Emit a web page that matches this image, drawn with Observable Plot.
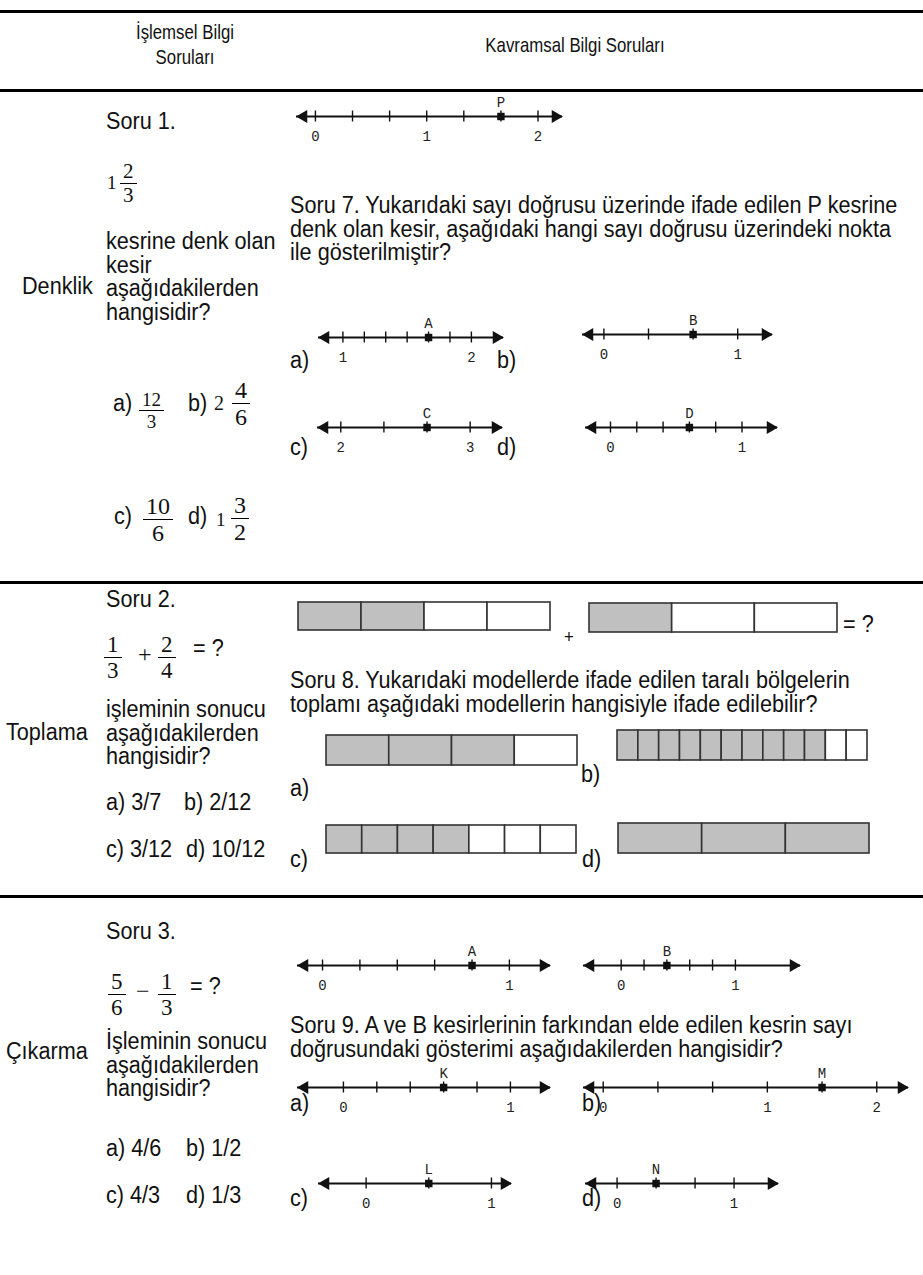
<!DOCTYPE html>
<html>
<head>
<meta charset="utf-8">
<script src="https://cdn.jsdelivr.net/npm/d3@7"></script>
<script src="https://cdn.jsdelivr.net/npm/@observablehq/plot@0.6"></script>
<style>
  body { margin: 0; background: #fff; }
  #page { position: relative; width: 923px; height: 1275px; overflow: hidden;
    font-family: "Liberation Sans", Arial, sans-serif; color: #111; }
  .abs { position: absolute; white-space: nowrap; line-height: 23.5px; font-size: 23px;
    transform: scaleX(0.94); transform-origin: 0 0; }
  .hdr { font-size: 21px; line-height: 25px; transform: scaleX(0.8); transform-origin: 50% 0; text-align: center; }
  .rule { position: absolute; left: 0; width: 923px; height: 3px; background: #000; }
  .frac { position: absolute; display: inline-flex; flex-direction: column; align-items: center;
    font-family: "Liberation Serif", "Times New Roman", serif; }
  .frac .bar { height: 1px; background: #000; align-self: stretch; }
  .frac span { padding: 0 3px; }
  .serif { font-family: "Liberation Serif", "Times New Roman", serif; transform: none; }
  .plotbox { position: absolute; }
</style>
</head>
<body>
<div id="page"></div>
<script>
// ---------------- DATA ----------------
const headerLeft = ["İşlemsel Bilgi", "Soruları"];
const headerRight = "Kavramsal Bilgi Soruları";
const sections = ["Denklik", "Toplama", "Çıkarma"];
const questionTitles = ["Soru 1.", "Soru 2.", "Soru 3."];
const stemLines = [
  ["kesrine denk olan", "kesir", "aşağıdakilerden", "hangisidir?"],
  ["işleminin sonucu", "aşağıdakilerden", "hangisidir?"],
  ["İşleminin sonucu", "aşağıdakilerden", "hangisidir?"]
];
const conceptTexts = [
  ["Soru 7. Yukarıdaki sayı doğrusu üzerinde ifade edilen P kesrine",
   "denk olan kesir, aşağıdaki hangi sayı doğrusu üzerindeki nokta",
   "ile gösterilmiştir?"],
  ["Soru 8. Yukarıdaki modellerde ifade edilen taralı bölgelerin",
   "toplamı aşağıdaki modellerin hangisiyle ifade edilebilir?"],
  ["Soru 9. A ve B kesirlerinin farkından elde edilen kesrin sayı",
   "doğrusundaki gösterimi aşağıdakilerden hangisidir?"]
];
const optionLetters = ["a)", "b)", "c)", "d)"];
const q1Given = { whole: "1", num: "2", den: "3" };
const q1Options = [
  { whole: "", num: "12", den: "3" },
  { whole: "2", num: "4", den: "6" },
  { whole: "", num: "10", den: "6" },
  { whole: "1", num: "3", den: "2" }
];
const q2Terms = [{ num: "1", den: "3" }, { num: "2", den: "4" }];
const q3Terms = [{ num: "5", den: "6" }, { num: "1", den: "3" }];
const q2Options = ["3/7", "2/12", "3/12", "10/12"];
const q3Options = ["4/6", "1/2", "4/3", "1/3"];

// number lines: arrow extents (lo, hi), tick values, labelled values, marked point
const numberLines = [
  { id: "P",  lo: -0.17, hi: 2.22, ticks: [0, 1/3, 2/3, 1, 4/3, 5/3, 2], labels: [[0,"0"],[1,"1"],[2,"2"]], point: 5/3, name: "P" },
  { id: "7a", lo: 0.81, hi: 2.25, ticks: [1, 7/6, 8/6, 9/6, 10/6, 11/6, 2], labels: [[1,"1"],[2,"2"]], point: 10/6, name: "A" },
  { id: "7b", lo: -0.16, hi: 1.26, ticks: [0, 1/3, 2/3, 1], labels: [[0,"0"],[1,"1"]], point: 2/3, name: "B" },
  { id: "7c", lo: 1.82, hi: 3.25, ticks: [2, 7/3, 8/3, 3], labels: [[2,"2"],[3,"3"]], point: 8/3, name: "C" },
  { id: "7d", lo: -0.19, hi: 1.27, ticks: [0, 0.2, 0.4, 0.6, 0.8, 1], labels: [[0,"0"],[1,"1"]], point: 0.6, name: "D" },
  { id: "9A", lo: -0.134, hi: 1.22, ticks: [0, 0.2, 0.4, 0.6, 0.8, 1], labels: [[0,"0"],[1,"1"]], point: 0.8, name: "A" },
  { id: "9B", lo: -0.33, hi: 1.57, ticks: [0, 0.2, 0.4, 0.6, 0.8, 1], labels: [[0,"0"],[1,"1"]], point: 0.4, name: "B" },
  { id: "9a", lo: -0.275, hi: 1.24, ticks: [0, 0.2, 0.4, 0.6, 0.8, 1], labels: [[0,"0"],[1,"1"]], point: 0.6, name: "K" },
  { id: "9b", lo: -0.12, hi: 1.86, ticks: [0, 1/3, 2/3, 1, 4/3, 5/3], labels: [[0,"0"],[1,"1"],[5/3,"2"]], point: 4/3, name: "M" },
  { id: "9c", lo: -0.38, hi: 1.16, ticks: [0, 1/2, 1], labels: [[0,"0"],[1,"1"]], point: 1/2, name: "L" },
  { id: "9d", lo: -0.27, hi: 1.38, ticks: [0, 1/3, 2/3, 1], labels: [[0,"0"],[1,"1"]], point: 1/3, name: "N" }
];

// bar models: number of equal parts, number shaded
const barModels = [
  { id: "8p1", parts: 4, shaded: 2 },
  { id: "8p2", parts: 3, shaded: 1 },
  { id: "8a", parts: 4, shaded: 3 },
  { id: "8b", parts: 12, shaded: 10 },
  { id: "8c", parts: 7, shaded: 4 },
  { id: "8d", parts: 3, shaded: 3 }
];

// ---------------- LAYOUT (pixels) ----------------
const layout = {
  rules: [10, 89, 581, 895],
  nl: {
    "P":  { x0: 296, x1: 562, y: 116 },
    "7a": { x0: 318, x1: 503, y: 337 },
    "7b": { x0: 582, x1: 772, y: 334 },
    "7c": { x0: 317, x1: 502, y: 427 },
    "7d": { x0: 585, x1: 777, y: 427 },
    "9A": { x0: 297, x1: 550, y: 965 },
    "9B": { x0: 583, x1: 800, y: 965 },
    "9a": { x0: 297, x1: 550, y: 1087 },
    "9b": { x0: 583, x1: 908, y: 1087 },
    "9c": { x0: 318, x1: 511, y: 1183 },
    "9d": { x0: 585, x1: 778, y: 1183 }
  },
  bars: {
    "8p1": { x0: 297, x1: 551, y0: 601, y1: 631 },
    "8p2": { x0: 588, x1: 838, y0: 602, y1: 633 },
    "8a":  { x0: 325, x1: 578, y0: 734, y1: 766 },
    "8b":  { x0: 616, x1: 868, y0: 729, y1: 761 },
    "8c":  { x0: 325, x1: 577, y0: 824, y1: 854 },
    "8d":  { x0: 617, x1: 870, y0: 822, y1: 854 }
  }
};

const page = document.getElementById("page");

function text(str, x, top, extra = {}) {
  const d = document.createElement("div");
  d.className = "abs" + (extra.cls ? " " + extra.cls : "");
  if (Array.isArray(str)) {
    str.forEach((s, i) => { if (i) d.appendChild(document.createElement("br")); d.appendChild(document.createTextNode(s)); });
  } else d.textContent = str;
  d.style.left = x + "px";
  d.style.top = top + "px";
  if (extra.size) d.style.fontSize = extra.size + "px";
  if (extra.width) d.style.width = extra.width + "px";
  if (extra.lh) d.style.lineHeight = extra.lh + "px";
  page.appendChild(d);
  return d;
}
function frac(f, x, barY, size = 22) {
  const lh = Math.round(size * 1.08);
  const d = document.createElement("div");
  d.className = "frac";
  d.style.left = x + "px";
  d.style.top = (barY - lh) + "px";
  d.style.fontSize = size + "px";
  d.style.lineHeight = lh + "px";
  const n = document.createElement("span"); n.textContent = f.num;
  const b = document.createElement("div"); b.className = "bar";
  const m = document.createElement("span"); m.textContent = f.den;
  d.append(n, b, m);
  page.appendChild(d);
}

// rules
layout.rules.forEach(y => {
  const r = document.createElement("div");
  r.className = "rule"; r.style.top = y + "px"; page.appendChild(r);
});

// headers
text(headerLeft, 85, 19, { width: 200, cls: "hdr" });
text(headerRight, 375, 32, { width: 400, cls: "hdr" });

// section names
text(sections[0], 22, 275);
text(sections[1], 6, 721);
text(sections[2], 6, 1040);

// question titles & stems
text(questionTitles[0], 106, 110);
text(questionTitles[1], 106, 588);
text(questionTitles[2], 106, 920);
text(stemLines[0], 106, 230);
text(stemLines[1], 106, 698);
text(stemLines[2], 106, 1030);

// Q1 given mixed number
text(q1Given.whole, 107, 171, { cls: "serif", size: 19 });
frac(q1Given, 120, 183, 21);

// Q1 options
text(optionLetters[0], 113, 392);
frac(q1Options[0], 139, 410, 19);
text(optionLetters[1], 188, 392);
text(q1Options[1].whole, 214, 392, { cls: "serif", size: 20 });
frac(q1Options[1], 232, 403, 24);
text(optionLetters[2], 114, 505);
frac(q1Options[2], 143, 519, 24);
text(optionLetters[3], 188, 505);
text(q1Options[3].whole, 216, 508, { cls: "serif", size: 19 });
frac(q1Options[3], 231, 518, 24);

// Q2 expression
frac(q2Terms[0], 104, 657, 23);
text("+", 138, 643, { cls: "serif", size: 24 });
frac(q2Terms[1], 158, 657, 23);
text("= ?", 193, 637);
// Q2 options
text(optionLetters[0] + " " + q2Options[0], 106, 791);
text(optionLetters[1] + "  " + q2Options[1], 184, 791);
text(optionLetters[2] + " " + q2Options[2], 106, 838);
text(optionLetters[3] + " " + q2Options[3], 186, 838);

// Q3 expression
frac(q3Terms[0], 108, 994, 23);
text("−", 136, 980, { cls: "serif", size: 24 });
frac(q3Terms[1], 158, 994, 23);
text("= ?", 190, 975);
// Q3 options
text(optionLetters[0] + " " + q3Options[0], 106, 1137);
text(optionLetters[1] + " " + q3Options[1], 186, 1137);
text(optionLetters[2] + " " + q3Options[2], 106, 1184);
text(optionLetters[3] + " " + q3Options[3], 186, 1184);

// concept texts
text(conceptTexts[0], 290, 194);
text(conceptTexts[1], 290, 669);
text(conceptTexts[2], 290, 1014);

// option letters for concept questions
[[290, 349], [497, 349], [290, 436], [497, 436]].forEach((p, i) => text(optionLetters[i], p[0], p[1]));
[[290, 777], [581, 763], [290, 848], [582, 848]].forEach((p, i) => text(optionLetters[i], p[0], p[1]));
[[290, 1092], [582, 1092], [290, 1187], [582, 1187]].forEach((p, i) => text(optionLetters[i], p[0], p[1]));
text("+", 564, 626, { size: 18 });
text("= ?", 843, 613);

// ---------------- PLOT: number lines ----------------
function numberLine(spec, lay) {
  const pad = 12, H = 60, mid = 30;
  const W = lay.x1 - lay.x0 + 2 * pad;
  const ink = "#111";
  const chart = Plot.plot({
    width: W, height: H,
    marginTop: 0, marginRight: 0, marginBottom: 0, marginLeft: 0,
    x: { domain: [spec.lo, spec.hi], range: [pad, W - pad], axis: null },
    y: { domain: [-1, 1], range: [mid + 5.5, mid - 5.5], axis: null },
    style: { overflow: "visible", background: "transparent" },
    marks: [
      Plot.ruleY([0], { x1: spec.lo, x2: spec.hi, stroke: ink, strokeWidth: 1.8 }),
      Plot.ruleX(spec.ticks, { x: d => d, y1: -1, y2: 1, stroke: ink, strokeWidth: 1.4 }),
      Plot.dot([spec.lo], { x: d => d, y: 0, symbol: "triangle", rotate: -90, r: 4.8, fill: ink, stroke: "none", dx: 7 }),
      Plot.dot([spec.hi], { x: d => d, y: 0, symbol: "triangle", rotate: 90, r: 4.8, fill: ink, stroke: "none", dx: -7 }),
      Plot.dot([spec.point], { x: d => d, y: 0, symbol: "square", r: 4.2, fill: ink, stroke: "none" }),
      Plot.text([spec.point], { x: d => d, y: 0, text: () => spec.name, dy: -14,
        fontFamily: "Liberation Mono, Courier New, monospace", fontSize: 14, fill: "#222" }),
      Plot.text(spec.labels, { x: d => d[0], y: 0, text: d => d[1], dy: 20,
        fontFamily: "Liberation Mono, Courier New, monospace", fontSize: 14, fill: "#222" })
    ]
  });
  const box = document.createElement("div");
  box.className = "plotbox";
  box.style.left = (lay.x0 - pad) + "px";
  box.style.top = (lay.y - mid) + "px";
  box.appendChild(chart);
  page.appendChild(box);
}
numberLines.forEach(s => numberLine(s, layout.nl[s.id]));

// ---------------- PLOT: bar models ----------------
function barModel(spec, lay) {
  const W = lay.x1 - lay.x0, H = lay.y1 - lay.y0;
  const cells = d3.range(spec.parts).map(i => ({ i, shaded: i < spec.shaded }));
  const chart = Plot.plot({
    width: W, height: H,
    marginTop: 0, marginRight: 0, marginBottom: 0, marginLeft: 0,
    x: { domain: [0, spec.parts], range: [1, W - 1], axis: null },
    y: { domain: [0, 1], range: [H - 1, 1], axis: null },
    color: { type: "identity" },
    style: { overflow: "visible", background: "transparent" },
    marks: [
      Plot.rect(cells, { x1: d => d.i, x2: d => d.i + 1, y1: 0, y2: 1,
        fill: d => d.shaded ? "#c0c0c0" : "#ffffff", stroke: "#333", strokeWidth: 1.6 })
    ]
  });
  const box = document.createElement("div");
  box.className = "plotbox";
  box.style.left = lay.x0 + "px";
  box.style.top = lay.y0 + "px";
  box.appendChild(chart);
  page.appendChild(box);
}
barModels.forEach(s => barModel(s, layout.bars[s.id]));
</script>
</body>
</html>
